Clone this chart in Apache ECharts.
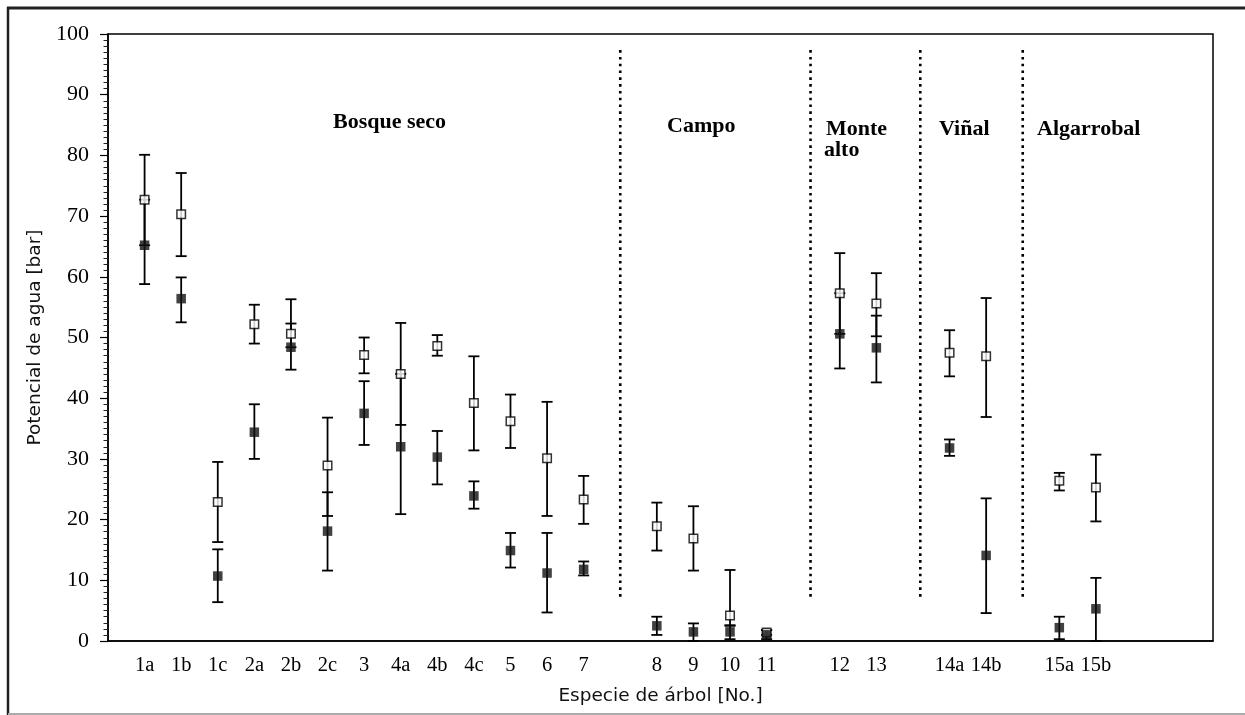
<!DOCTYPE html>
<html><head><meta charset="utf-8">
<script src="https://cdn.jsdelivr.net/npm/echarts@6/dist/echarts.min.js"></script>
<style>html,body{margin:0;padding:0;background:#fff}#c{width:1245px;height:715px}</style>
</head><body><div id="c"></div>
<script>
// ---- data ----
const groupNames = ['Bosque seco', 'Campo', 'Monte alto', 'Viñal', 'Algarrobal'];
const groupSpecies = [
  ['1a','1b','1c','2a','2b','2c','3','4a','4b','4c','5','6','7'],
  ['8','9','10','11'],
  ['12','13'],
  ['14a','14b'],
  ['15a','15b']
];
// open squares
const openMean = [72.7,70.3,22.9,52.2,50.6,28.9,47.1,44.0,48.6,39.2,36.2,30.1,23.3, 18.9,16.9,4.2,1.4, 57.3,55.6, 47.5,46.9, 26.4,25.3];
const openLow  = [65.2,63.4,16.3,49.0,48.4,20.6,44.1,35.6,47.0,31.4,31.8,20.6,19.3, 14.9,11.6,2.6,1.0, 50.6,50.2, 43.6,36.9, 24.8,19.7];
const openHigh = [80.1,77.1,29.5,55.4,56.3,36.8,50.0,52.4,50.4,46.9,40.6,39.4,27.2, 22.8,22.2,11.7,1.8, 63.9,60.6, 51.2,56.5, 27.7,30.7];
// filled squares
const fillMean = [65.2,56.4,10.7,34.4,48.4,18.1,37.5,32.0,30.3,23.9,14.9,11.2,11.8, 2.5,1.5,1.5,1.0, 50.6,48.3, 31.8,14.1, 2.2,5.3];
const fillLow  = [58.8,52.5,6.4,30.0,44.7,11.6,32.3,20.9,25.8,21.8,12.1,4.7,10.8, 1.0,0.0,0.3,0.3, 44.9,42.6, 30.5,4.6, 0.3,0.0];
const fillHigh = [72.7,59.9,15.1,39.0,52.3,24.5,42.8,44.0,34.6,26.3,17.8,17.8,13.1, 4.0,2.9,2.5,1.8, 57.3,53.6, 33.2,23.5, 4.0,10.4];
const yTicks = [0,10,20,30,40,50,60,70,80,90,100];

// ---- build x slots: one empty slot between groups ----
const xs = [], names = {}, dividers = [];
let slot = 1;
groupSpecies.forEach((g, gi) => {
  if (gi > 0) { dividers.push(slot); slot++; }
  g.forEach(s => { xs.push(slot); names[slot] = s; slot++; });
});
const openPts = xs.map((x,i)=>[x, openMean[i]]);
const fillPts = xs.map((x,i)=>[x, fillMean[i]]);
const openBars = xs.map((x,i)=>[x, openLow[i], openHigh[i]]);
const fillBars = xs.map((x,i)=>[x, fillLow[i], fillHigh[i]]);
const divData = dividers.map((d,i)=>[d + (i===1||i===2 ? 0.2 : 0), 7.3, 97.6]);

const serif = '"Liberation Serif","Times New Roman",serif';
const sans = '"DejaVu Sans",sans-serif';

function errItem(params, api){
  const x = api.value(0), lo = api.value(1), hi = api.value(2);
  const a = api.coord([x, lo]), b = api.coord([x, hi]);
  const hw = 5.5, st = {stroke:'#000', lineWidth:1.8};
  return {type:'group', children:[
    {type:'line', shape:{x1:a[0],y1:a[1],x2:b[0],y2:b[1]}, style:st},
    {type:'line', shape:{x1:a[0]-hw,y1:a[1],x2:a[0]+hw,y2:a[1]}, style:st},
    {type:'line', shape:{x1:b[0]-hw,y1:b[1],x2:b[0]+hw,y2:b[1]}, style:st}
  ]};
}
function divItem(params, api){
  const x = api.value(0);
  const a = api.coord([x, api.value(1)]), b = api.coord([x, api.value(2)]);
  return {type:'line', shape:{x1:a[0],y1:a[1],x2:b[0],y2:b[1]},
    style:{stroke:'#000', lineWidth:2.6, lineDash:[2.6,4.2]}};
}

const chart = echarts.init(document.getElementById('c'), null, {renderer:'canvas'});
chart.setOption({
  backgroundColor:'#fff',
  animation:false,
  grid:{left:108, right:32, top:34, bottom:74, show:true, borderColor:'#000', borderWidth:1.5},
  xAxis:{type:'value', min:0, max:30.2, interval:1,
    name:'Especie de árbol [No.]', nameLocation:'middle', nameGap:46,
    nameTextStyle:{fontFamily:sans, fontSize:18.5, color:'#111'},
    axisLine:{show:true, lineStyle:{color:'#000', width:1.5}},
    axisTick:{show:false}, splitLine:{show:false},
    axisLabel:{margin:14, fontFamily:serif, fontSize:20.5, color:'#000',
      showMinLabel:true, showMaxLabel:true,
      formatter:(v)=> names[Math.round(v)] && Math.abs(v-Math.round(v))<1e-6 ? names[Math.round(v)] : ''}
  },
  yAxis:{type:'value', min:yTicks[0], max:yTicks[yTicks.length-1], interval:10,
    name:'Potencial de agua [bar]', nameLocation:'middle', nameGap:61,
    nameTextStyle:{fontFamily:sans, fontSize:18.5, color:'#111'},
    axisLine:{show:true, lineStyle:{color:'#000', width:1.5}},
    axisTick:{show:true, length:8, lineStyle:{color:'#000', width:1.2}},
    minorTick:{show:true, splitNumber:10, length:4.5, lineStyle:{color:'#222', width:1}},
    splitLine:{show:false},
    axisLabel:{margin:19, fontFamily:serif, fontSize:22, color:'#000'}
  },
  series:[
    {type:'custom', renderItem:divItem, data:divData, encode:{x:0,y:[1,2]}, z:1, silent:true},
    {type:'custom', renderItem:errItem, data:openBars, encode:{x:0,y:[1,2]}, z:2, silent:true},
    {type:'custom', renderItem:errItem, data:fillBars, encode:{x:0,y:[1,2]}, z:2, silent:true},
    {type:'scatter', data:openPts, symbol:'rect', symbolSize:8.5, z:3,
      itemStyle:{color:'#fff', borderColor:'#000', borderWidth:1.5}},
    {type:'scatter', data:fillPts, symbol:'rect', symbolSize:9.5, z:4,
      itemStyle:{color:'#111'}}
  ],
  graphic:[
    {type:'line', shape:{x1:7,y1:8,x2:1245,y2:8}, style:{stroke:'#222', lineWidth:3}},
    {type:'line', shape:{x1:8,y1:7,x2:8,y2:715}, style:{stroke:'#222', lineWidth:2.5}},
    {type:'line', shape:{x1:8,y1:714,x2:1245,y2:714}, style:{stroke:'#aaa', lineWidth:2}},
    {type:'text', x:333, y:122, style:{text:groupNames[0], font:'bold 22px '+serif, fill:'#000', verticalAlign:'middle'}},
    {type:'text', x:667, y:126, style:{text:groupNames[1], font:'bold 22px '+serif, fill:'#000', verticalAlign:'middle'}},
    {type:'text', x:826, y:129, style:{text:groupNames[2].split(' ')[0], font:'bold 22px '+serif, fill:'#000', verticalAlign:'middle'}},
    {type:'text', x:824, y:150, style:{text:groupNames[2].split(' ')[1], font:'bold 22px '+serif, fill:'#000', verticalAlign:'middle'}},
    {type:'text', x:939, y:129, style:{text:groupNames[3], font:'bold 22px '+serif, fill:'#000', verticalAlign:'middle'}},
    {type:'text', x:1037, y:129, style:{text:groupNames[4], font:'bold 22px '+serif, fill:'#000', verticalAlign:'middle'}}
  ]
});
</script>
</body></html>
